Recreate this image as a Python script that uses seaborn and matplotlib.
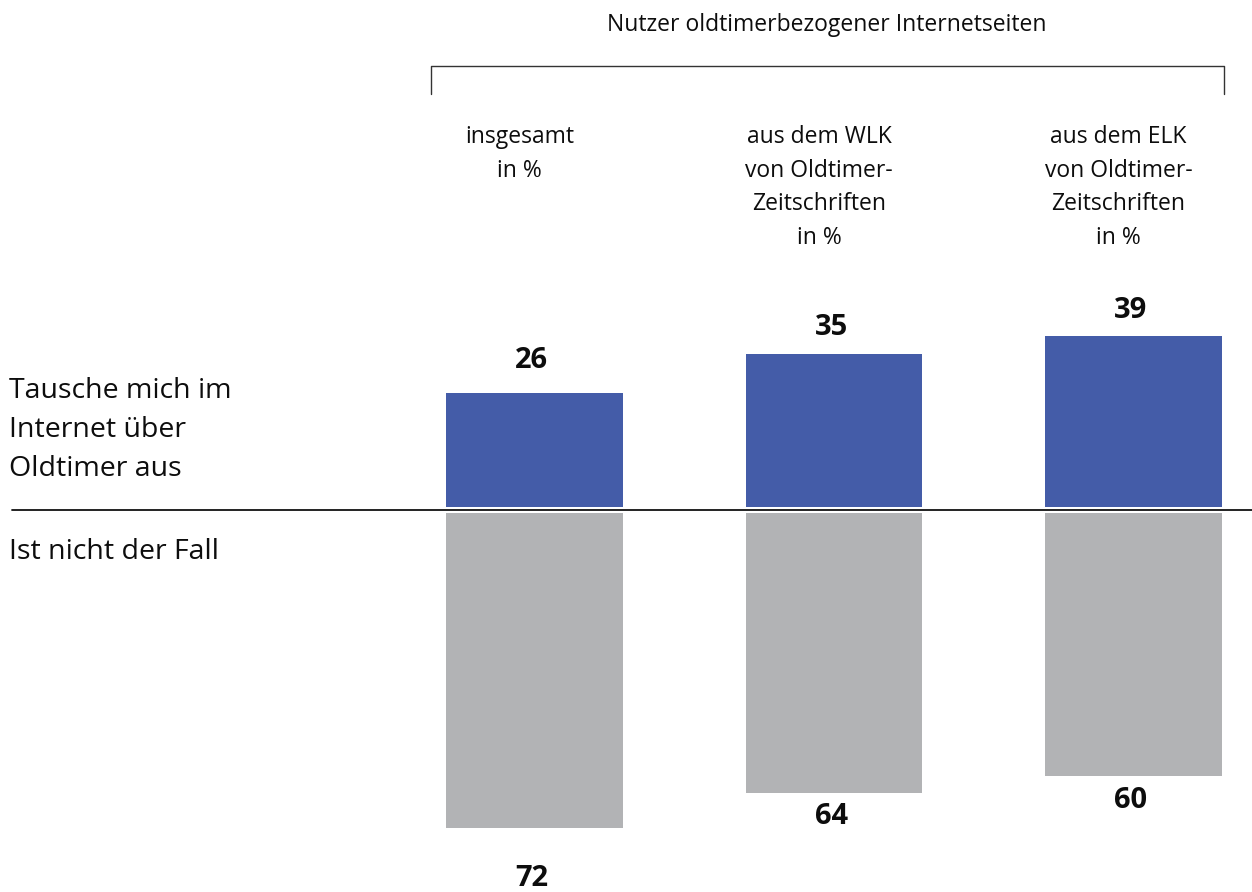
import matplotlib
matplotlib.use("Agg")
import matplotlib.pyplot as plt
import seaborn as sns
import pandas as pd

# Data
groups = ["insgesamt", "WLK", "ELK"]
group_headers = [
    ["insgesamt", "in %"],
    ["aus dem WLK", "von Oldtimer-", "Zeitschriften", "in %"],
    ["aus dem ELK", "von Oldtimer-", "Zeitschriften", "in %"],
]
yes_values = [26, 35, 39]   # Tausche mich im Internet über Oldtimer aus
no_values = [72, 64, 60]    # Ist nicht der Fall
row_yes = ["Tausche mich im", "Internet über", "Oldtimer aus"]
row_no = "Ist nicht der Fall"
title = "Nutzer oldtimerbezogener Internetseiten"

BLUE = "#445ca8"
GREY = "#b2b3b5"
INK = "#0d0d0d"

W, H = 1252, 892
sns.set_theme(style="white")
plt.rcParams["font.family"] = ["Open Sans", "DejaVu Sans"]

fig = plt.figure(figsize=(W / 100, H / 100), dpi=100)
ax = fig.add_axes([0, 0, 1, 1])

df_yes = pd.DataFrame({"group": groups, "value": yes_values})
df_no = pd.DataFrame({"group": groups, "value": [-v for v in no_values]})

bar_w = 0.59
sns.barplot(data=df_yes, x="group", y="value", order=groups, color=BLUE,
            width=bar_w, saturation=1, ax=ax, errorbar=None)
n_yes = len(ax.patches)
sns.barplot(data=df_no, x="group", y="value", order=groups, color=GREY,
            width=bar_w, saturation=1, ax=ax, errorbar=None)

# pixel scale: ~300 px per category, 4.375 px per percent point
px_cat = 299.5
px_unit = 4.375
x0_px = 534.5
base_px = 510
ax.set_xlim(-x0_px / px_cat, (W - x0_px) / px_cat)
ax.set_ylim(-(H - base_px) / px_unit, base_px / px_unit)
ax.axis("off")

# small gap on each side of the baseline
gap = 3 / px_unit
for i, p in enumerate(ax.patches):
    p.set_linewidth(0)
    p.set_y(p.get_y() + (gap if i < n_yes else -gap))

def fx(px):
    return px / W

def fy(py):
    return 1 - py / H

# baseline
fig.add_artist(plt.Line2D([fx(12), fx(W)], [fy(510), fy(510)],
                          color="#111111", lw=1.3))

# value labels
pad_top = [33, 26, 26]
pad_bot = [50, 24, 25]
for i, (yv, nv) in enumerate(zip(yes_values, no_values)):
    ax.annotate(str(yv), xy=(i, yv + gap), xytext=(-2, pad_top[i] * 0.72),
                textcoords="offset points", ha="center", va="center",
                fontsize=21, fontweight="bold", color=INK)
    ax.annotate(str(nv), xy=(i, -nv - gap), xytext=(-2, -pad_bot[i] * 0.72),
                textcoords="offset points", ha="center", va="center",
                fontsize=21, fontweight="bold", color=INK)

# column headers
line_h = 33.5
for i, lines in enumerate(group_headers):
    for k, line in enumerate(lines):
        ax.text(i - 0.05, (base_px - (137 + k * line_h)) / px_unit, line,
                ha="center", va="center", fontsize=16.5, color=INK)

# title and bracket
fig.text(fx(827), fy(25), title, ha="center", va="center",
         fontsize=16.5, color=INK)
fig.add_artist(plt.Line2D([fx(431), fx(431), fx(1224), fx(1224)],
                          [fy(94), fy(66), fy(66), fy(94)],
                          color="#333333", lw=1.0))

# row labels
for k, line in enumerate(row_yes):
    fig.text(fx(9), fy(391 + k * 39), line, ha="left", va="center",
             fontsize=20.5, color=INK)
fig.text(fx(9), fy(552), row_no, ha="left", va="center",
         fontsize=20.5, color=INK)

fig.savefig("out.png", dpi=100)
